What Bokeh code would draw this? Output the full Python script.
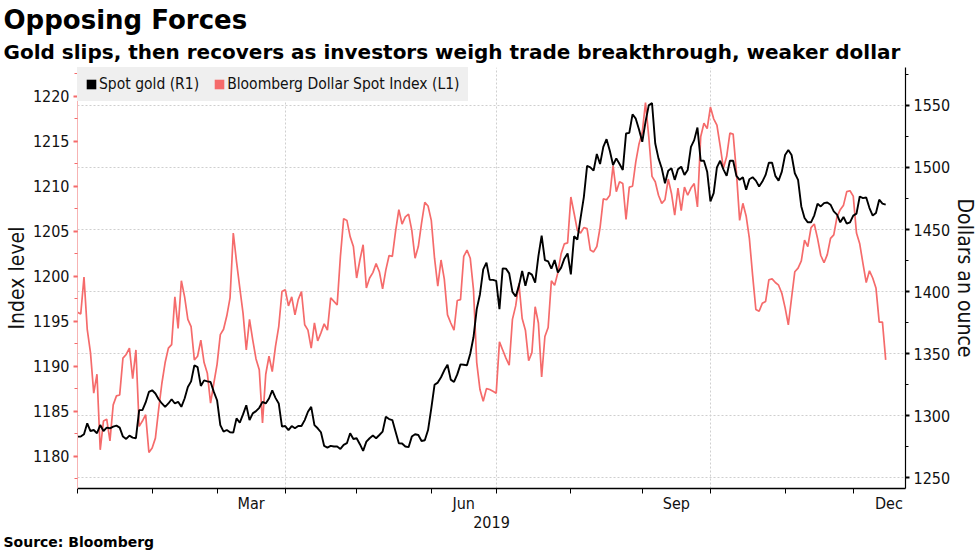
import pandas as pd
from bokeh.plotting import figure
from bokeh.models import (Range1d, LinearAxis, SingleIntervalTicker, FixedTicker,
                          Grid, Legend, LegendItem, Title)
from bokeh.embed import file_html
from bokeh.resources import INLINE

# ---------------- data (one value per trading day from early Jan 2019) ----------------
gold = [
    1283.2, 1283.2, 1285.1, 1293.9, 1287.7, 1288.5, 1285.9, 1292.5, 1287.7, 1290.4,
    1289.9, 1291.2, 1292.0, 1290.4, 1283.2, 1281.3, 1284.0, 1282.4, 1281.9, 1304.5,
    1304.5, 1310.7, 1319.2, 1320.5, 1317.9, 1313.3, 1309.9, 1307.2, 1309.9, 1313.3,
    1309.9, 1311.2, 1307.2, 1313.9, 1323.2, 1327.7, 1340.6, 1339.2, 1324.0, 1328.5,
    1327.7, 1327.2, 1319.2,
    1312.5, 1292.5, 1287.2, 1288.5, 1286.7, 1286.4, 1297.9, 1294.4, 1301.1, 1308.5,
    1296.5, 1301.9, 1303.7, 1306.4, 1311.2, 1309.9, 1313.9, 1320.5, 1314.4, 1309.9,
    1291.2, 1291.7, 1288.5, 1291.7, 1289.9, 1291.7, 1291.7, 1296.5, 1303.2, 1307.2,
    1292.5, 1289.9, 1286.7, 1275.7, 1274.4, 1275.7, 1275.2, 1275.2, 1273.3, 1276.5,
    1277.9, 1285.9, 1281.3,
    1281.9, 1277.1, 1271.7, 1279.2, 1281.9, 1284.0, 1281.9, 1284.5, 1287.2, 1299.2,
    1297.3, 1296.5, 1287.2, 1277.9, 1277.6, 1275.2, 1274.7, 1283.2, 1285.1, 1284.5,
    1279.7, 1280.3, 1288.5, 1305.9, 1324.9, 1326.7, 1331.0, 1336.6, 1341.1, 1329.1,
    1327.2, 1333.3, 1341.4, 1341.1, 1340.6, 1349.9, 1363.2, 1385.9, 1397.9, 1417.9,
    1423.3, 1409.4, 1409.4,
    1408.6, 1385.9, 1418.7, 1418.5, 1414.7, 1399.8, 1396.0, 1404.6, 1416.6, 1404.6,
    1415.3, 1413.7, 1407.3, 1428.6, 1445.1, 1425.4, 1424.3, 1418.5, 1425.4, 1415.3,
    1419.3, 1426.5, 1430.7, 1413.9, 1444.6, 1441.9, 1459.3, 1476.1, 1501.2, 1500.1,
    1497.4, 1510.8, 1502.8, 1516.6, 1522.8, 1513.4, 1502.0, 1507.3, 1502.8, 1498.0,
    1527.3, 1527.9,
    1542.8, 1539.3, 1530.5, 1520.7, 1536.7, 1550.0, 1551.9, 1519.3, 1507.3, 1499.3,
    1487.3, 1497.4, 1499.3, 1490.0, 1498.5, 1500.6, 1494.0, 1498.0, 1516.6, 1522.0,
    1532.1, 1505.4, 1505.4, 1496.6, 1472.6, 1479.3, 1500.1, 1505.4, 1498.5, 1493.2,
    1505.4, 1505.4, 1493.2, 1490.0, 1492.1, 1482.0, 1490.5, 1492.1, 1489.4, 1484.6,
    1488.6, 1494.0,
    1503.8, 1503.8, 1493.2, 1489.4, 1496.6, 1510.0, 1514.0, 1510.0, 1495.3, 1490.0,
    1468.6, 1459.3, 1455.8, 1455.8, 1461.4, 1470.8, 1468.6, 1471.3, 1471.8, 1470.0,
    1464.6, 1462.0, 1455.8, 1460.1, 1454.7, 1455.8, 1461.2, 1462.8, 1476.6, 1475.3,
    1475.8, 1467.3, 1461.2, 1463.3, 1474.0, 1470.8, 1470.0,
]

dollar_index = [
    1196.0, 1195.8, 1199.9, 1194.1, 1191.5, 1187.0, 1189.1, 1180.7, 1183.9, 1184.1,
    1181.7, 1185.7, 1186.7, 1186.8, 1190.9, 1191.3, 1192.0, 1188.6, 1191.8, 1183.3,
    1183.9, 1184.6, 1180.4, 1180.9, 1182.0, 1185.2, 1188.1, 1190.4, 1192.0, 1192.4,
    1197.7, 1194.2, 1199.5, 1197.7, 1195.2, 1194.4, 1190.7, 1191.1, 1192.9, 1190.4,
    1189.2, 1185.9, 1188.1,
    1190.2, 1193.5, 1194.1, 1195.6, 1197.6, 1204.8, 1201.6, 1198.7, 1195.9, 1191.8,
    1195.2, 1192.9, 1190.8, 1189.6, 1183.7, 1189.1, 1191.1, 1189.4, 1192.2, 1194.4,
    1198.3, 1198.5, 1196.7, 1197.7, 1195.7, 1197.4, 1198.3, 1194.6, 1194.0, 1192.0,
    1194.8, 1192.8, 1193.7, 1194.7, 1194.0, 1197.6, 1197.2, 1196.8, 1202.2, 1206.4,
    1206.2, 1204.4, 1203.3,
    1199.8, 1201.8, 1203.5, 1198.7, 1199.8, 1200.4, 1201.4, 1200.5, 1198.6, 1200.7,
    1202.3, 1202.2, 1205.0, 1207.4, 1205.8, 1206.6, 1206.9, 1205.1, 1202.0, 1203.3,
    1205.9, 1208.2, 1207.8, 1206.2, 1202.0, 1198.9, 1201.8, 1199.7, 1195.7, 1194.8,
    1194.0, 1197.3, 1197.4, 1202.2, 1202.9, 1202.0, 1198.5, 1190.4, 1187.4, 1186.1,
    1187.5, 1187.4, 1187.2,
    1187.0, 1192.7, 1191.8, 1190.9, 1190.1, 1195.2, 1196.7, 1199.2, 1195.3, 1194.0,
    1190.6, 1191.5, 1196.6, 1194.8, 1188.8, 1193.3, 1194.3, 1199.5, 1199.0, 1200.4,
    1202.5, 1203.6, 1203.7, 1208.8, 1207.0, 1205.1, 1204.8, 1205.4, 1205.3, 1202.9,
    1202.7, 1203.3, 1205.4, 1208.6, 1208.5, 1209.0, 1212.3, 1209.4, 1210.5, 1210.3,
    1206.3, 1209.9,
    1210.0, 1212.7, 1214.7, 1216.0, 1219.3, 1215.5, 1211.1, 1210.5, 1209.0, 1208.1,
    1208.5, 1210.8, 1209.2, 1206.8, 1209.8, 1207.3, 1209.9, 1209.0, 1209.8, 1210.3,
    1207.7, 1215.5, 1217.0, 1216.4, 1218.8, 1217.5, 1216.8, 1214.5, 1212.0, 1213.3,
    1215.9, 1215.8, 1211.6, 1206.2, 1208.1, 1206.7, 1204.2, 1200.1, 1196.3, 1196.1,
    1197.0, 1197.2,
    1199.6, 1199.7, 1199.3, 1199.0, 1198.1, 1196.5, 1194.6, 1197.6, 1200.5, 1200.9,
    1201.7, 1204.0, 1203.3, 1205.4, 1205.8, 1204.2, 1202.3, 1201.5, 1202.4, 1204.2,
    1204.6, 1206.6, 1207.4, 1207.9, 1209.4, 1209.5, 1208.9, 1204.8, 1203.6, 1201.4,
    1199.3, 1200.6, 1199.8, 1198.7, 1194.9, 1194.9, 1190.7,
]

month_labels = ["Mar", "Jun", "Sep", "Dec"]
label_months = [3, 6, 9, 12]
grid_months = [4, 7, 10]
year_label = "2019"
series_names = ["Spot gold (R1)", "Bloomberg Dollar Spot Index (L1)"]
title_text = "Opposing Forces"
subtitle_text = "Gold slips, then recovers as investors weigh trade breakthrough, weaker dollar"
source_text = "Source: Bloomberg"
left_label = "Index level"
right_label = "Dollars an ounce"

# ---------------- trading-day axis ----------------
x = list(range(len(gold)))
cal = pd.bdate_range("2019-01-01", "2020-01-31")
month_start = {}
for i, d in enumerate(cal):
    month_start.setdefault((d.year, d.month), i)
starts_2019 = [month_start[(2019, m)] for m in range(1, 13)]


def next_start(m):
    return month_start[(2019, m + 1)] if m < 12 else month_start[(2020, 1)]


label_pos = [(month_start[(2019, m)] + next_start(m)) / 2 for m in label_months]
grid_pos = [month_start[(2019, m)] for m in grid_months]

RED = "#f56b6b"
COND = "DejaVu Sans Condensed"
BOLD = "DejaVu Sans"
W, H = 980, 551
BL, BR, BT, BB = 77, 75, 67, 62

p = figure(width=W, height=H, output_backend="svg", toolbar_location=None,
           title=title_text,
           x_range=Range1d(0, 255.1), y_range=Range1d(1176.4, 1223.2),
           min_border_left=BL, min_border_right=BR, min_border_top=BT,
           min_border_bottom=BB, outline_line_color=None,
           background_fill_color="white", border_fill_color="white")
p.extra_y_ranges = {"gold": Range1d(1241.4, 1580.5)}

# titles
p.title.text_font = BOLD
p.title.text_font_size = "26px"
p.title.text_font_style = "bold"
p.title.text_color = "black"
p.title.align = "left"
p.title.offset = -(BL - 3)
p.title.standoff = 0
sub = Title(text=subtitle_text, text_font=BOLD, text_font_size="20px",
            text_font_style="bold", text_color="black",
            align="left", offset=-(BL - 3), standoff=7)
p.add_layout(sub, "above")

# grids
p.ygrid.visible = False
p.xgrid.ticker = FixedTicker(ticks=grid_pos)
p.xgrid.grid_line_color = "#cfcfcf"
p.xgrid.grid_line_dash = "2 2"
gold_ticker = SingleIntervalTicker(interval=50, num_minor_ticks=2)
hgrid = Grid(dimension=1, ticker=gold_ticker, y_range_name="gold",
             grid_line_color="#cfcfcf", grid_line_dash="2 2")
p.add_layout(hgrid)

# lines
p.line(x, dollar_index, color=RED, line_width=1.7)
p.line(x, gold, color="black", line_width=1.9, y_range_name="gold")

# legend swatches (no visible data)
nan = [float("nan")]
q_gold = p.quad(left=nan, right=nan, top=nan, bottom=nan, fill_color="black", line_color=None)
q_dxy = p.quad(left=nan, right=nan, top=nan, bottom=nan, fill_color=RED, line_color=None)
LEG_BG = "#efefef"
legend = Legend(items=[LegendItem(label=series_names[0], renderers=[q_gold]),
                       LegendItem(label=series_names[1], renderers=[q_dxy])],
                orientation="horizontal", location="top_left", margin=0,
                padding=7, spacing=14, label_standoff=2,
                glyph_width=12, glyph_height=12, label_height=17,
                label_text_font=COND, label_text_font_size="15.5px",
                label_text_color="#111111",
                background_fill_color=LEG_BG, background_fill_alpha=1.0,
                border_line_color=LEG_BG, border_line_width=1)
p.add_layout(legend)

# bottom axis
xa = p.xaxis[0]
xa.ticker = FixedTicker(ticks=label_pos, minor_ticks=starts_2019)
xa.major_label_overrides = {pos: lab for pos, lab in zip(label_pos, month_labels)}
xa.major_tick_out = 0
xa.major_tick_in = 0
xa.minor_tick_out = 5
xa.minor_tick_in = 0
xa.minor_tick_line_color = "black"
xa.axis_line_color = "black"
xa.axis_line_width = 1.5
xa.major_label_standoff = 0
xa.major_label_text_font = COND
xa.major_label_text_font_size = "16px"
xa.major_label_text_color = "#111111"
xa.axis_label = year_label
xa.axis_label_text_font = COND
xa.axis_label_text_font_size = "16px"
xa.axis_label_text_font_style = "normal"
xa.axis_label_text_color = "#111111"
xa.axis_label_standoff = 0

# left axis (dollar index)
ya = p.yaxis[0]
ya.ticker = SingleIntervalTicker(interval=5, num_minor_ticks=2)
ya.axis_line_color = "#f7b3b3"
ya.major_tick_line_color = RED
ya.major_tick_line_width = 2
ya.major_tick_out = 4
ya.major_tick_in = 0
ya.minor_tick_line_color = RED
ya.minor_tick_out = 3
ya.minor_tick_in = 0
ya.major_label_standoff = 4
ya.major_label_text_font = COND
ya.major_label_text_font_size = "16px"
ya.major_label_text_color = "#111111"
ya.axis_label = left_label
ya.axis_label_text_font = COND
ya.axis_label_text_font_size = "21px"
ya.axis_label_text_font_style = "normal"
ya.axis_label_text_color = "#111111"
ya.axis_label_standoff = 1

# right axis (gold)
ra = LinearAxis(y_range_name="gold", ticker=gold_ticker, axis_label=right_label)
ra.axis_line_color = "black"
ra.axis_line_width = 1.2
ra.major_tick_line_color = "black"
ra.major_tick_line_width = 2
ra.major_tick_out = 4
ra.major_tick_in = 0
ra.minor_tick_line_color = "black"
ra.minor_tick_out = 3
ra.minor_tick_in = 0
ra.major_label_standoff = 4
ra.major_label_text_font = COND
ra.major_label_text_font_size = "16px"
ra.major_label_text_color = "#111111"
ra.axis_label_text_font = COND
ra.axis_label_text_font_size = "21px"
ra.axis_label_text_font_style = "normal"
ra.axis_label_text_color = "#111111"
ra.axis_label_standoff = 0
p.add_layout(ra, "right")

# source line
src = Title(text=source_text, text_font=BOLD, text_font_size="14px",
            text_font_style="bold", text_color="black",
            align="left", offset=-(BL - 3), standoff=3)
p.add_layout(src, "below")

open("out.html", "w").write(file_html(p, INLINE))
